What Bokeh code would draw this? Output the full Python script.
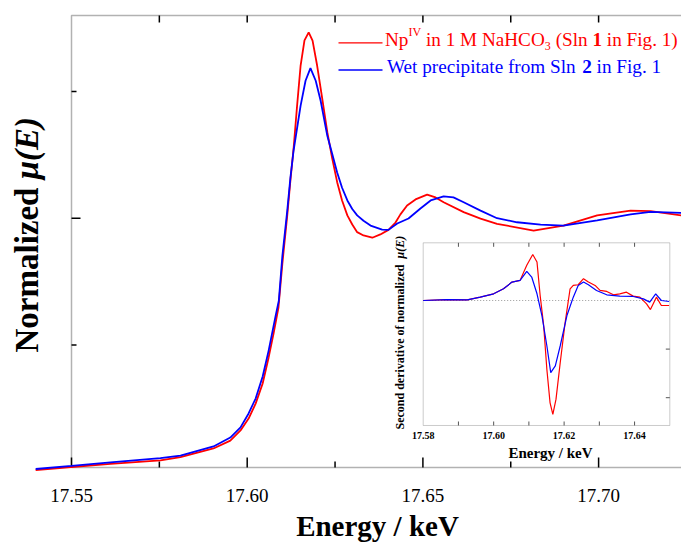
import math
from bokeh.plotting import figure
from bokeh.models import Range1d, BoxAnnotation
from bokeh.core.properties import value
from bokeh.embed import file_html
from bokeh.resources import INLINE

# ---------------- data ----------------
energy_red = [17.5398, 17.5500, 17.5611, 17.5753, 17.5810, 17.5904, 17.5952, 17.5981,
              17.6004, 17.6024, 17.6044, 17.6061, 17.6075, 17.6089, 17.6100, 17.6114,
              17.6123, 17.6132, 17.6142, 17.6152, 17.6163, 17.6175, 17.6186, 17.6199,
              17.6213, 17.6228, 17.6242, 17.6256, 17.6270, 17.6285, 17.6299, 17.6313,
              17.6331, 17.6356, 17.6379, 17.6402, 17.6422, 17.6436, 17.6455, 17.6479,
              17.6512, 17.6536, 17.6559, 17.6616, 17.6664, 17.6711, 17.6815, 17.6900,
              17.6996, 17.7091, 17.7148, 17.7236]
mu_red = [0.007, 0.019, 0.031, 0.045, 0.058, 0.092, 0.123, 0.163,
          0.210, 0.269, 0.348, 0.451, 0.545, 0.648, 0.820, 1.011,
          1.149, 1.275, 1.444, 1.602, 1.701, 1.733, 1.700, 1.602,
          1.476, 1.339, 1.235, 1.142, 1.070, 1.011, 0.975, 0.945,
          0.932, 0.923, 0.936, 0.954, 0.983, 1.015, 1.050, 1.074,
          1.093, 1.082, 1.063, 1.024, 0.998, 0.978, 0.951, 0.971,
          1.011, 1.030, 1.028, 1.011]

energy_blue = [17.5398, 17.5500, 17.5611, 17.5753, 17.5810, 17.5904, 17.5952, 17.5981,
               17.6004, 17.6024, 17.6044, 17.6061, 17.6081, 17.6090, 17.6100, 17.6114,
               17.6123, 17.6132, 17.6152, 17.6166, 17.6180, 17.6195, 17.6209, 17.6228,
               17.6242, 17.6256, 17.6270, 17.6285, 17.6299, 17.6313, 17.6331, 17.6351,
               17.6384, 17.6402, 17.6427, 17.6459, 17.6493, 17.6522, 17.6559, 17.6587,
               17.6616, 17.6664, 17.6711, 17.6768, 17.6835, 17.6900, 17.6996, 17.7091,
               17.7148, 17.7236]
mu_blue = [0.011, 0.023, 0.037, 0.054, 0.064, 0.100, 0.135, 0.175,
           0.230, 0.289, 0.376, 0.478, 0.616, 0.675, 0.850, 1.030,
           1.160, 1.267, 1.444, 1.542, 1.592, 1.542, 1.463, 1.325,
           1.253, 1.180, 1.120, 1.070, 1.036, 1.011, 0.990, 0.971,
           0.955, 0.954, 0.979, 0.999, 1.038, 1.070, 1.086, 1.082,
           1.063, 1.030, 1.000, 0.984, 0.975, 0.971, 0.991, 1.015,
           1.025, 1.021]

# inset: second derivative
d2_energy_red = [17.5800, 17.5868, 17.5925, 17.5962, 17.6000, 17.6028, 17.6052, 17.6075,
                 17.6094, 17.6111, 17.6123, 17.6132, 17.6142, 17.6151, 17.6160, 17.6168,
                 17.6177, 17.6189, 17.6203, 17.6217, 17.6226, 17.6240, 17.6255, 17.6269,
                 17.6288, 17.6302, 17.6321, 17.6340, 17.6358, 17.6377, 17.6396, 17.6415,
                 17.6434, 17.6445, 17.6462, 17.6476, 17.6498]
d2_red = [0.000, 0.020, 0.014, 0.069, 0.138, 0.241, 0.379, 0.414,
          0.724, 0.945, 0.793, 0.103, -0.517, -1.414, -2.100, -2.345,
          -2.030, -1.276, -0.448, 0.241, 0.310, 0.324, 0.448, 0.379,
          0.310, 0.207, 0.186, 0.117, 0.138, 0.172, 0.090, 0.069,
          -0.069, -0.186, 0.069, -0.103, -0.103]

d2_energy_blue = [17.5800, 17.5868, 17.5925, 17.5962, 17.6000, 17.6028, 17.6052, 17.6075,
                  17.6094, 17.6108, 17.6123, 17.6137, 17.6151, 17.6162, 17.6175, 17.6189,
                  17.6208, 17.6226, 17.6240, 17.6255, 17.6269, 17.6292, 17.6321, 17.6358,
                  17.6396, 17.6425, 17.6443, 17.6460, 17.6476, 17.6498]
d2_blue = [0.000, 0.020, 0.014, 0.069, 0.138, 0.241, 0.379, 0.414,
           0.600, 0.483, 0.138, -0.310, -0.931, -1.483, -1.345, -0.931,
           -0.310, 0.069, 0.310, 0.379, 0.324, 0.207, 0.117, 0.090,
           0.083, 0.034, -0.034, 0.138, 0.000, -0.020]

x_major_ticks = [17.55, 17.60, 17.65, 17.70]
x_tick_labels = ["17.55", "17.60", "17.65", "17.70"]
x_minor_ticks = [17.575, 17.625, 17.675]
x_top_ticks = [17.575, 17.60, 17.625, 17.65, 17.675, 17.70]
y_major_ticks = [1.0]
y_minor_ticks = [0.5, 1.5]
axis_start_energy = 17.55

inset_x_range = [17.58, 17.65]
inset_y_range = [-2.572, 1.187]
inset_x_labels = [17.58, 17.60, 17.62, 17.64]
inset_x_ticks = [17.59, 17.60, 17.61, 17.62, 17.63, 17.64]
inset_y_ticks = [-1.0, -2.0]

# ---------------- layout calibration (page pixels) ----------------
FONT = "Liberation Serif"
FIG_W, FIG_H = 681, 544
AX_T, AX_B = 15, 467          # main axes box top / bottom
X0_PX, XS = 71.0, 3514.0      # 17.55 keV at 71 px
Y0_PX, YS = 471.3, 253.6      # mu = 0 at 471.3 px
IX0_PX, IXS = 422.7, 3522.9   # inset 17.58 keV
IY0_PX, IYS = 300.0, 48.6     # inset zero
BASE_SHIFT_H = 0.42           # text baseline correction (em)
BASE_SHIFT_V = 0.45


def ex(px):
    return 17.55 + (px - X0_PX) / XS


def ey(py):
    return (Y0_PX - py) / YS


def iex(px):
    return 17.58 + (px - IX0_PX) / IXS


def iey(py):
    return (IY0_PX - py) / IYS


p = figure(width=FIG_W, height=FIG_H,
           x_range=Range1d(ex(0), ex(FIG_W)),
           y_range=Range1d(ey(FIG_H), ey(0)),
           output_backend="svg", toolbar_location=None,
           min_border_left=0, min_border_right=0, min_border_top=0, min_border_bottom=0)
p.extra_x_ranges = {"ix": Range1d(iex(0), iex(FIG_W))}
p.extra_y_ranges = {"iy": Range1d(iey(FIG_H), iey(0))}
p.grid.visible = False
p.xaxis.visible = False
p.yaxis.visible = False
p.outline_line_color = None
p.background_fill_color = "white"
p.border_fill_color = "white"

# main axes box (open on the right; curves start left of the axis)
p.add_layout(BoxAnnotation(left=axis_start_energy, right=ex(720), bottom=ey(AX_B), top=ey(AX_T),
                           fill_alpha=0, line_color="black", line_width=1.5, level="underlay"))
# bottom ticks
p.ray(x=x_major_ticks, y=[ey(AX_B)] * len(x_major_ticks), length=10, length_units="screen",
      angle=math.pi / 2, line_color="black", line_width=1.5)
p.ray(x=x_minor_ticks, y=[ey(AX_B)] * len(x_minor_ticks), length=6, length_units="screen",
      angle=math.pi / 2, line_color="black", line_width=1.5)
# left ticks
p.ray(x=[axis_start_energy] * len(y_major_ticks), y=y_major_ticks, length=9, length_units="screen",
      angle=0, line_color="black", line_width=1.5)
p.ray(x=[axis_start_energy] * len(y_minor_ticks), y=y_minor_ticks, length=5, length_units="screen",
      angle=0, line_color="black", line_width=1.5)
# top ticks
p.ray(x=x_top_ticks, y=[ey(AX_T)] * len(x_top_ticks), length=7, length_units="screen",
      angle=-math.pi / 2, line_color="black", line_width=1.5)
# bottom tick labels
p.text(x=x_major_ticks, y=[ey(503 - BASE_SHIFT_H * 19)] * len(x_major_ticks), text=x_tick_labels,
       text_font=value(FONT), text_font_size="19px", text_color="black",
       text_align="center", text_baseline="alphabetic")

# main curves
p.line(energy_red, mu_red, line_color="#ff0000", line_width=1.8)
p.line(energy_blue, mu_blue, line_color="#0000ff", line_width=1.8)


def txt(px, py, s, size, color="black", style="normal", angle=0.0, align="left"):
    if angle == 0:
        py = py - BASE_SHIFT_H * size
    else:
        px = px - BASE_SHIFT_V * size
    p.text(x=[ex(px)], y=[ey(py)], text=[s], text_font=value(FONT), text_font_size="%.1fpx" % size,
           text_font_style=style, text_color=color, angle=angle, text_align=align,
           text_baseline="alphabetic")


# legend
p.line([ex(338), ex(382)], [ey(42.3), ey(42.3)], line_color="#ff0000", line_width=1.3)
p.line([ex(338), ex(382)], [ey(69.5), ey(69.5)], line_color="#0000ff", line_width=1.3)
R = "#ff0000"
B = "#0000ff"
fs = 19.2
fsm = 12.0
sp = 0.25 * fs
x = 384.5
txt(x, 47, "Np", fs, R); x += 1.222 * fs
txt(x, 36.5, "IV", fsm, R); x += 1.055 * fsm + sp
txt(x, 47, "in 1 M NaHCO", fs, R); x += 6.194 * fs
txt(x, 51, "3", fsm, R); x += 0.5 * fsm + sp
txt(x, 47, "(Sln", fs, R); x += 1.667 * fs + sp
txt(x, 47, "1", fs, R, "bold"); x += 0.5 * fs + sp
txt(x, 47, "in Fig. 1)", fs, R)

x = 386.5
txt(x, 74.5, "Wet precipitate from Sln", fs, B); x += 9.915 * fs + sp
txt(x, 74.5, "2", fs, B, "bold"); x += 0.5 * fs + sp
txt(x, 74.5, "in Fig. 1", fs, B)

# axis titles
txt(41, 352, "Normalized", 33, "black", "bold", math.pi / 2)
txt(41, 352 - 5.249 * 33, "\u03bc(E)", 33, "black", "bold italic", math.pi / 2)
txt(377, 538, "Energy / keV", 29, "black", "bold", 0.0, "center")

# ---------------- inset ----------------
p.add_layout(BoxAnnotation(left=inset_x_range[0], right=inset_x_range[1],
                           bottom=inset_y_range[0], top=inset_y_range[1],
                           x_range_name="ix", y_range_name="iy",
                           fill_color="white", fill_alpha=1, line_color="#555555",
                           line_width=1, level="underlay"))
p.line(inset_x_range, [0, 0], x_range_name="ix", y_range_name="iy",
       line_color="#999999", line_width=1, line_dash="1 2")
p.ray(x=inset_x_ticks, y=[inset_y_range[1]] * len(inset_x_ticks), length=4, length_units="screen",
      angle=-math.pi / 2, x_range_name="ix", y_range_name="iy", line_color="#555555", line_width=1)
p.ray(x=inset_x_ticks, y=[inset_y_range[0]] * len(inset_x_ticks), length=4, length_units="screen",
      angle=math.pi / 2, x_range_name="ix", y_range_name="iy", line_color="#555555", line_width=1)
p.ray(x=[inset_x_range[1]] * len(inset_y_ticks), y=inset_y_ticks, length=4, length_units="screen",
      angle=math.pi, x_range_name="ix", y_range_name="iy", line_color="#555555", line_width=1)

p.line(d2_energy_red, d2_red, x_range_name="ix", y_range_name="iy",
       line_color="#ff0000", line_width=1.2)
p.line(d2_energy_blue, d2_blue, x_range_name="ix", y_range_name="iy",
       line_color="#0000ff", line_width=1.2)

p.text(x=inset_x_labels, y=[iey(439 - BASE_SHIFT_H * 10)] * len(inset_x_labels),
       text=["%.2f" % v for v in inset_x_labels], x_range_name="ix", y_range_name="iy",
       text_font=value(FONT), text_font_size="10px", text_font_style="bold",
       text_align="center", text_baseline="alphabetic", text_color="black")
txt(550, 459, "Energy / keV", 15, "black", "bold", 0.0, "center")
txt(405, 429, "Second derivative of normalized", 12, "black", "bold", math.pi / 2)
txt(405, 429 - 14.249 * 12, "\u03bc(E)", 12, "black", "bold italic", math.pi / 2)

open("out.html", "w").write(file_html(p, INLINE))
